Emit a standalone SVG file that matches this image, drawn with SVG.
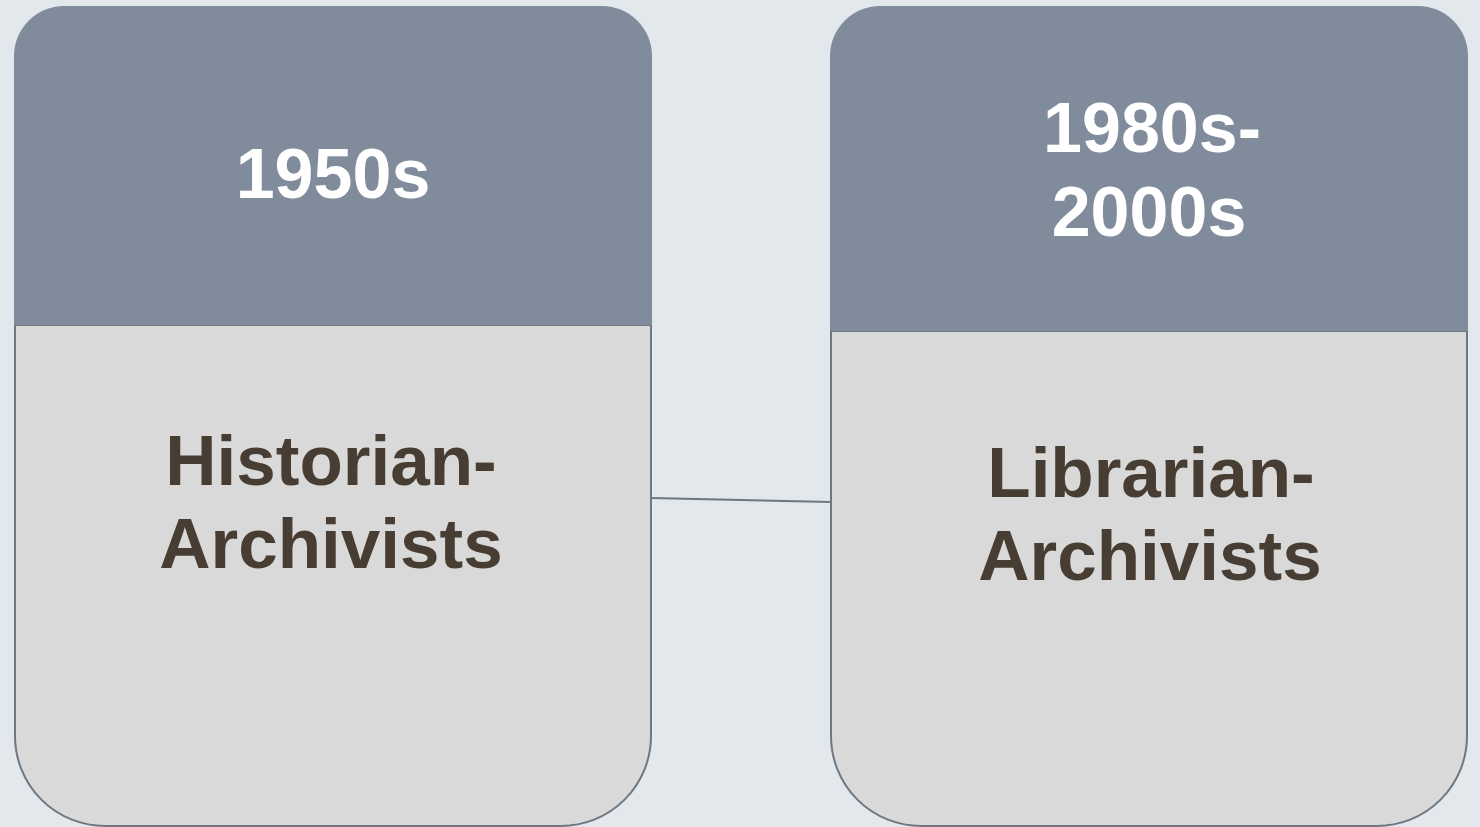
<svg xmlns="http://www.w3.org/2000/svg" width="1480" height="827" viewBox="0 0 1480 827">
<style>
.hdr{fill:#808c9c}
.body{fill:#d9d9d9;stroke:#6f7782;stroke-width:2}
.ht{font-family:"Liberation Sans",Arial,sans-serif;font-weight:bold;font-size:70px;fill:#ffffff;text-anchor:middle}
.bt{font-family:"Liberation Sans",Arial,sans-serif;font-weight:bold;font-size:71px;fill:#483d33;text-anchor:middle}
.conn{stroke:#6f7782;stroke-width:2;fill:none}
</style>
<rect width="1480" height="827" fill="#e3e8ec"/>
<g id="connectors">
<line class="conn" x1="651" y1="498" x2="831" y2="502"/>
</g>
<g id="node-1950s">
<path class="body" d="M15 325 H651 V736 A90 90 0 0 1 561 826 H105 A90 90 0 0 1 15 736 Z"/>
<path class="hdr" d="M14 325 V56 A50 50 0 0 1 64 6 H602 A50 50 0 0 1 652 56 V325 Z"/>
<text class="ht" x="333" y="198">1950s</text>
<text class="bt" x="331" y="485">Historian-</text>
<text class="bt" x="331" y="568">Archivists</text>
</g>
<g id="node-1980s">
<path class="body" d="M831 331 H1467 V736 A90 90 0 0 1 1377 826 H921 A90 90 0 0 1 831 736 Z"/>
<path class="hdr" d="M830 331 V56 A50 50 0 0 1 880 6 H1418 A50 50 0 0 1 1468 56 V331 Z"/>
<text class="ht" x="1152" y="152">1980s-</text>
<text class="ht" x="1149" y="236">2000s</text>
<text class="bt" x="1151" y="497">Librarian-</text>
<text class="bt" x="1150" y="580">Archivists</text>
</g>
</svg>
